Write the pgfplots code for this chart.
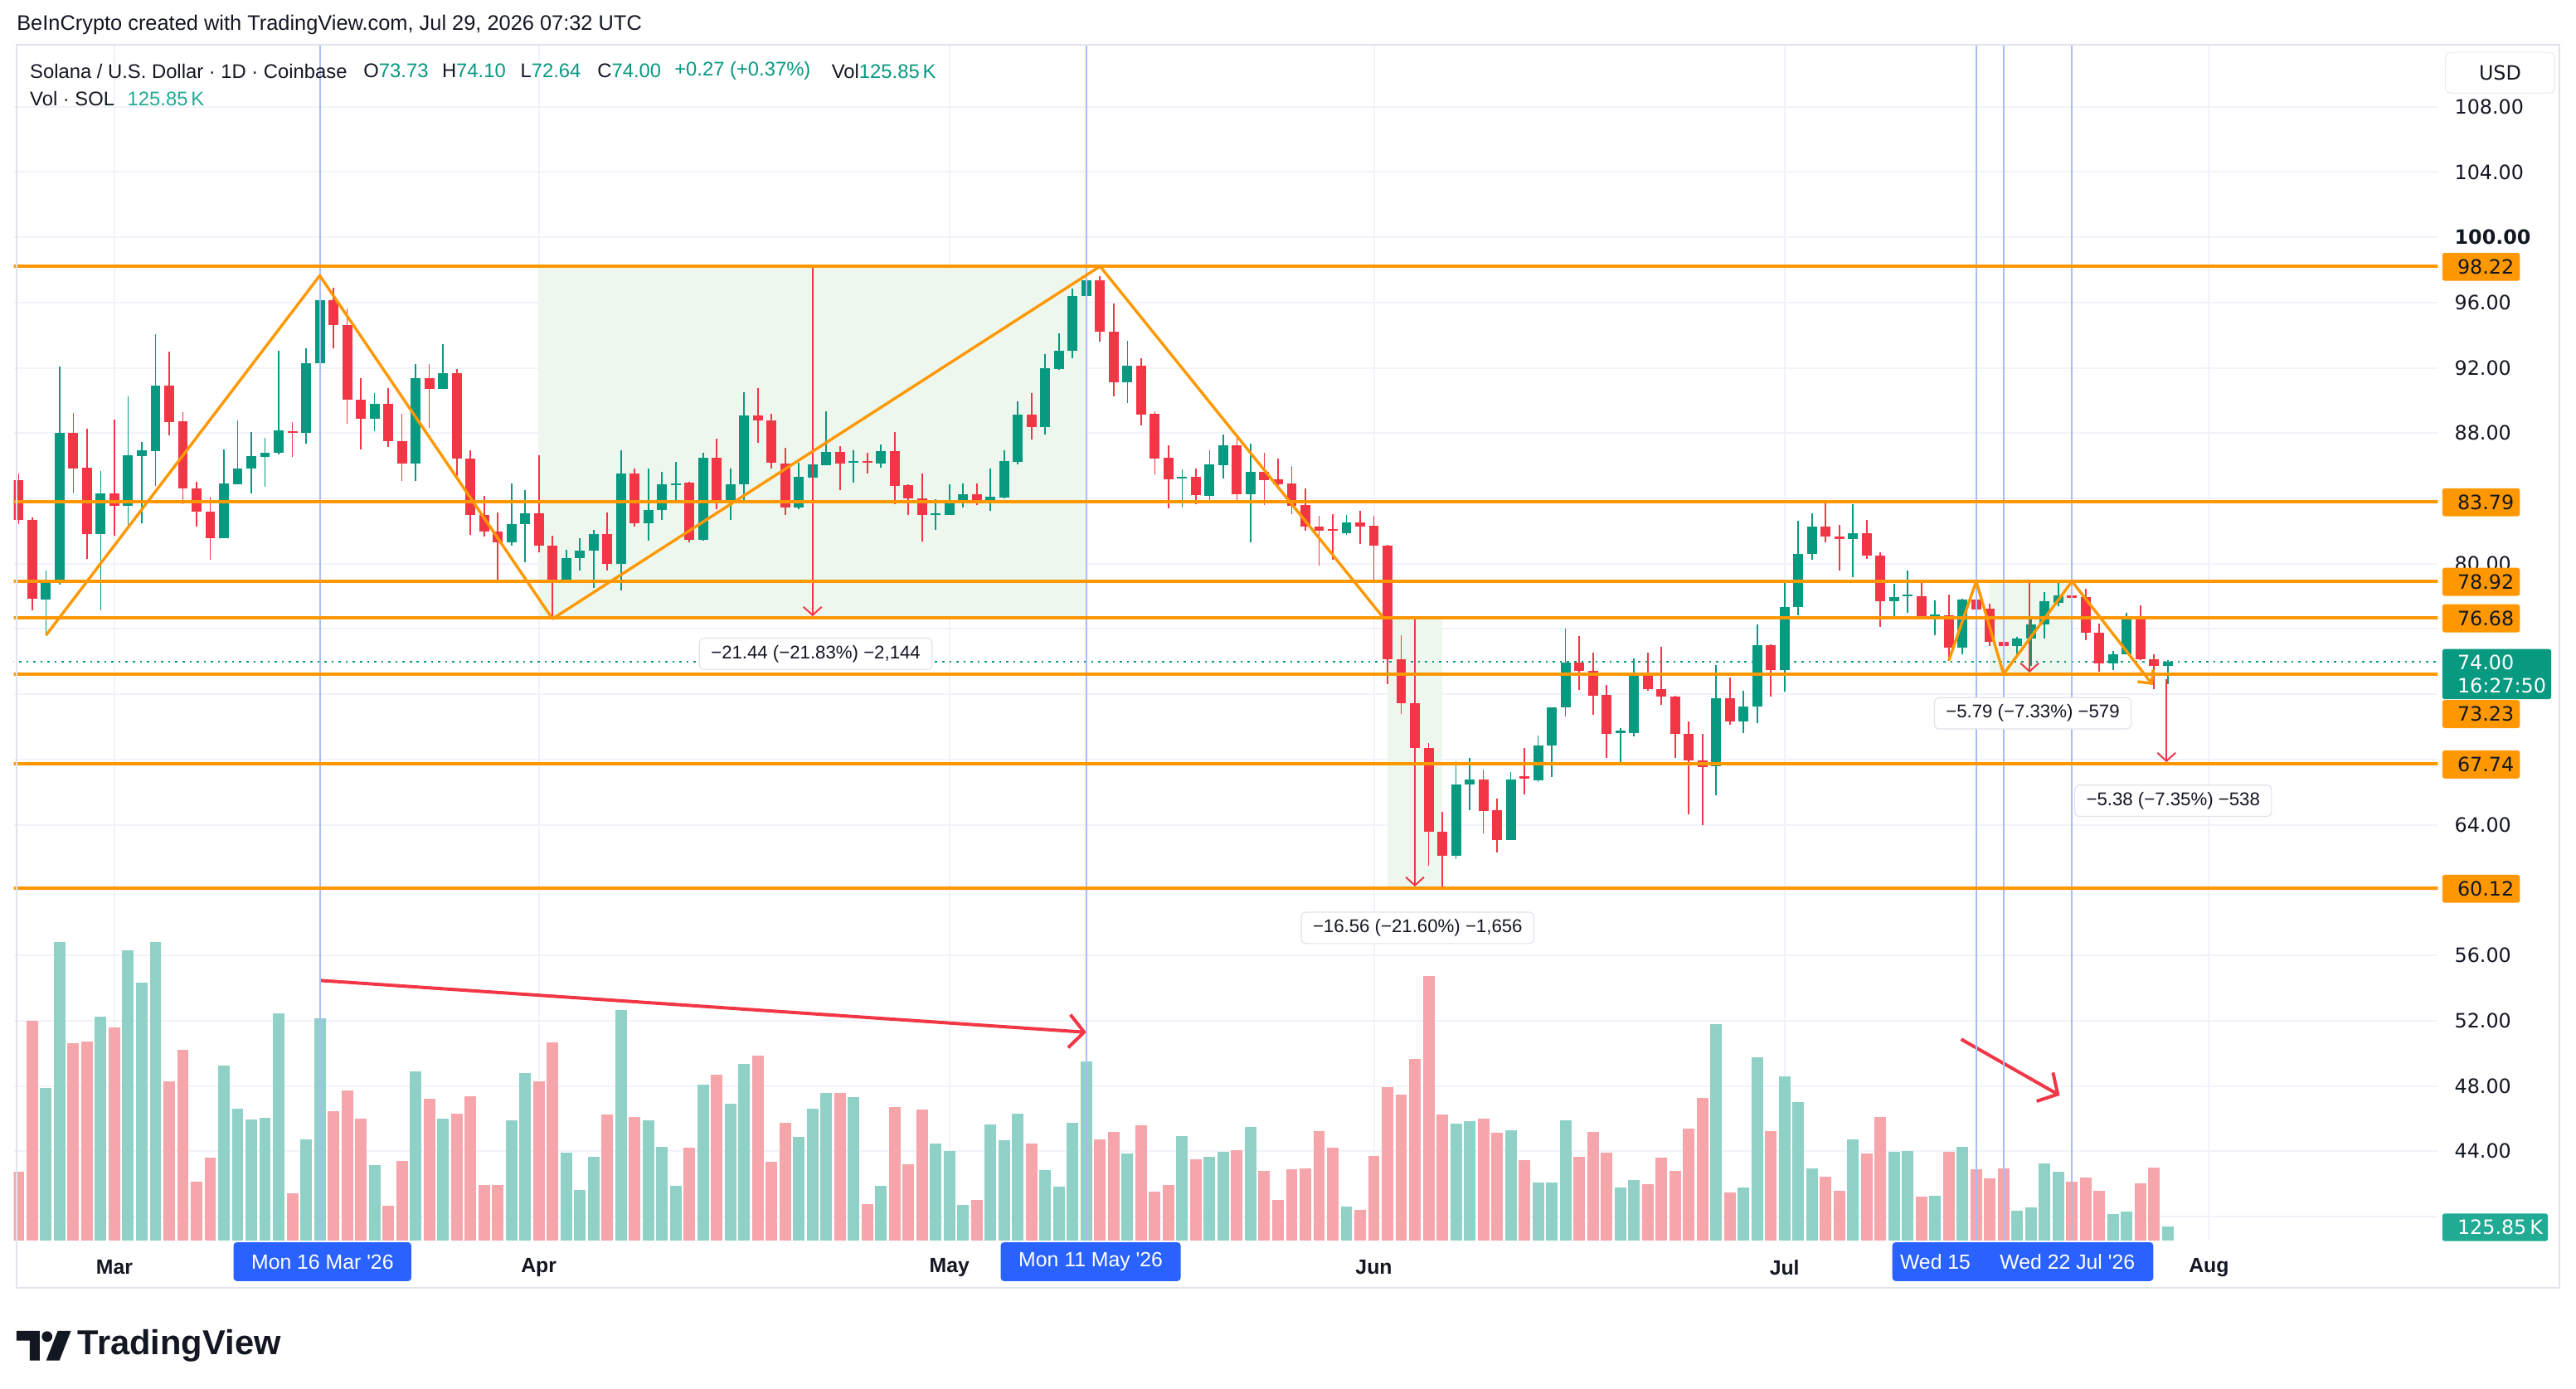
\documentclass[border=0pt]{standalone}
\usepackage{fontspec}
\setmainfont{Liberation Sans}
\newfontfamily\pricefont{DejaVu Sans}
\usepackage{pgfplots}
\pgfplotsset{compat=1.18}
\usepackage{pgfplotstable}
\usetikzlibrary{arrows.meta}
\definecolor{tvgreen}{HTML}{089981}
\definecolor{tvred}{HTML}{F23645}
\definecolor{tvvolg}{HTML}{8FD1C6}
\definecolor{tvvolr}{HTML}{F6A5AA}
\definecolor{tvorange}{HTML}{FF9800}
\definecolor{tvtext}{HTML}{131722}
\definecolor{tvgrid}{HTML}{F0F3FA}
\definecolor{tvborder}{HTML}{E0E3EB}
\definecolor{tvblue}{HTML}{2962FF}
\definecolor{tvvline}{HTML}{A8BCF7}
\definecolor{tvfill}{HTML}{EDF7EE}
\definecolor{tvteal}{HTML}{22AB94}

% d = days since 1 Mar 2026; O H L C in USD; V = volume in thousands of SOL
\pgfplotstableread{
d O H L C V
-7 85.13 85.52 82.42 82.67 624
-6 82.69 82.81 77.13 77.84 1996
-5 77.79 79.59 75.61 78.94 1389
-4 78.99 92.09 78.74 88.02 2713
-3 88.02 89.24 84.33 85.85 1795
-2 85.89 88.28 80.27 81.82 1810
-1 81.82 85.69 77.13 84.33 2036
0 84.33 88.82 81.71 83.53 1938
1 83.53 90.26 82.38 86.62 2640
2 86.58 87.46 82.47 86.96 2346
3 86.92 94.07 84.75 90.89 2713
4 90.89 92.97 87.84 88.70 1447
5 88.73 89.29 83.65 84.62 1734
6 84.62 85.04 82.26 83.18 534
7 83.21 84.08 80.23 81.54 753
8 81.54 87.01 81.54 84.92 1591
9 84.87 88.79 84.84 85.85 1198
10 85.82 88.09 84.33 86.57 1100
11 86.53 87.72 84.70 86.82 1115
12 86.79 93.02 86.70 88.19 2066
13 88.14 88.70 86.53 88.01 428
14 88.01 93.22 87.35 92.29 919
15 92.29 97.68 91.19 96.15 2021
16 96.15 96.91 93.19 94.61 1175
17 94.63 95.64 88.56 90.04 1364
18 90.07 91.36 86.99 88.87 1107
19 88.87 90.43 88.11 89.80 685
20 89.80 90.77 87.13 87.50 315
21 87.51 89.16 85.09 86.14 722
22 86.14 92.24 85.06 91.39 1538
23 91.39 92.21 88.34 90.72 1289
24 90.72 93.43 90.72 91.65 1107
25 91.65 91.92 85.38 86.45 1153
26 86.45 86.96 81.76 82.98 1311
27 82.98 84.16 81.65 81.96 503
28 81.96 83.14 79.03 81.32 503
29 81.32 84.92 81.11 82.43 1092
30 82.43 84.50 80.10 83.09 1523
31 83.09 86.62 80.69 81.11 1447
32 81.11 81.71 76.71 78.91 1802
33 78.91 80.86 78.86 80.35 798
34 80.35 81.57 79.59 80.81 458
35 80.81 82.08 78.49 81.82 760
36 81.82 83.14 79.59 80.01 1145
37 80.01 86.96 78.37 85.55 2097
38 85.55 85.82 82.26 82.50 1123
39 82.50 85.82 81.42 83.31 1092
40 83.31 85.65 82.67 84.84 851
41 84.79 86.24 83.82 84.92 496
42 84.96 85.01 81.32 81.48 843
43 81.48 86.79 81.42 86.50 1417
44 86.50 87.68 83.35 83.70 1508
45 83.70 85.85 82.67 84.87 1243
46 84.87 90.51 83.86 89.06 1606
47 89.06 90.77 87.38 88.79 1681
48 88.79 89.16 85.82 86.19 715
49 86.14 87.12 82.98 83.43 1070
50 83.43 86.19 83.35 85.30 941
51 85.26 86.91 84.30 86.06 1198
52 86.02 89.33 86.02 86.87 1342
53 86.87 87.18 84.50 86.14 1342
54 86.19 86.96 84.96 86.28 1304
55 86.24 86.79 85.52 86.19 330
56 86.14 87.29 85.89 86.91 496
57 86.91 88.09 83.65 84.75 1213
58 84.79 84.87 82.98 83.99 692
59 83.99 85.55 81.37 82.97 1191
60 82.97 83.96 82.09 83.06 881
61 82.97 84.84 82.97 83.74 813
62 83.74 84.92 83.45 84.25 322
63 84.25 84.92 83.57 83.82 367
64 83.82 85.85 83.23 84.08 1055
65 84.03 86.96 83.99 86.28 911
66 86.23 89.97 86.07 89.11 1153
67 89.11 90.43 87.60 88.36 881
68 88.36 92.83 87.89 92.00 639
69 91.95 94.12 91.87 93.05 488
70 93.05 96.86 92.58 96.41 1070
71 96.41 98.30 94.24 97.34 1626
72 97.34 97.63 93.58 94.23 919
73 94.23 95.96 90.26 91.11 987
74 91.11 93.63 89.82 92.13 790
75 92.13 92.59 88.49 89.14 1047
76 89.17 89.35 85.46 86.45 443
77 86.47 87.25 83.41 85.15 503
78 85.20 85.80 83.46 85.31 949
79 85.31 85.85 83.65 84.22 737
80 84.17 86.97 83.78 86.06 760
81 86.03 87.90 85.20 87.25 805
82 87.25 87.74 83.90 84.27 821
83 84.27 87.35 81.31 85.64 1032
84 85.64 86.81 83.59 85.12 632
85 85.17 86.42 84.61 84.89 367
86 84.92 85.98 83.05 83.54 647
87 83.57 84.63 82.04 82.25 654
88 82.25 82.92 79.89 82.01 994
89 82.09 83.05 80.22 82.01 843
90 81.88 83.00 81.75 82.55 307
91 82.55 83.26 81.23 82.27 277
92 82.30 82.95 78.98 81.11 768
93 81.11 81.18 72.62 74.13 1394
94 74.13 75.61 70.81 71.46 1326
95 71.46 71.60 68.47 68.73 1651
96 68.73 68.99 61.47 63.60 2406
97 63.60 64.79 60.12 62.10 1145
98 62.10 67.88 61.92 66.45 1062
99 66.45 68.08 64.90 66.79 1085
100 66.79 67.39 63.47 64.84 1107
101 64.90 65.62 62.30 63.08 979
102 63.08 67.25 63.08 66.79 1002
103 66.92 68.73 65.88 66.84 730
104 66.71 69.47 66.60 68.87 526
105 68.88 71.21 66.93 71.21 526
106 71.21 76.04 70.65 73.95 1092
107 73.92 75.58 72.28 73.45 760
108 73.45 74.56 70.75 71.92 987
109 71.97 72.57 68.11 69.57 798
110 69.64 69.94 67.83 69.72 481
111 69.64 74.17 69.43 73.11 549
112 73.16 74.56 72.23 72.31 511
113 72.31 74.90 71.35 71.84 753
114 71.84 71.92 68.11 69.57 632
115 69.57 70.32 64.64 67.95 1017
116 67.95 69.55 63.97 67.54 1296
117 67.57 73.80 65.83 71.77 1968
118 71.77 73.04 70.15 70.33 435
119 70.33 72.23 69.64 71.26 481
120 71.26 76.29 70.23 75.02 1666
121 75.02 75.07 71.86 73.50 994
122 73.50 78.83 72.14 77.36 1493
123 77.36 82.64 76.83 80.61 1259
124 80.61 83.10 80.23 82.25 654
125 82.25 83.87 81.32 81.67 579
126 81.67 82.35 79.59 81.49 451
127 81.49 83.62 79.17 81.88 919
128 81.88 82.69 80.27 80.49 790
129 80.52 80.69 76.15 77.70 1123
130 77.70 78.75 76.63 77.95 805
131 78.00 79.56 76.97 78.07 813
132 78.02 78.80 76.68 76.68 398
133 76.76 77.73 75.61 76.85 405
134 76.85 78.12 74.06 74.85 805
135 74.85 77.87 74.43 77.78 851
136 77.78 77.90 76.88 77.17 647
137 77.23 77.56 74.94 75.19 564
138 75.23 75.70 73.24 74.94 654
139 74.94 75.53 74.43 75.41 269
140 75.41 76.58 73.75 76.29 300
141 76.29 78.28 75.41 77.68 700
142 77.62 78.80 77.40 78.07 624
143 78.07 78.92 76.94 77.90 534
144 77.94 78.45 75.33 75.79 571
145 75.79 76.33 73.38 73.87 451
146 73.87 74.63 73.50 74.43 239
147 74.43 77.01 74.43 76.63 262
148 76.72 77.43 74.09 74.13 519
149 74.13 74.46 72.31 73.73 662
150 73.73 74.10 72.64 74.00 125.85
}\candles
\pgfplotstablecreatecol[create col/expr={(\thisrow{C}>=\thisrow{O})*\thisrow{V}}]{Vu}{\candles}
\pgfplotstablecreatecol[create col/expr={(\thisrow{C}<\thisrow{O})*\thisrow{V}}]{Vd}{\candles}

% volume pane scale: bars rise from the pane floor (38.534) at 148.57 K per price unit
\def\vbase{38.534}
\def\vscale{148.57}

\tikzset{
  mlabel/.style={fill=white, draw=tvborder, line width=0.6bp, rounded corners=3bp,
    minimum height=19bp, inner xsep=7bp, inner ysep=0pt,
    font=\fontsize{11.2}{13}\selectfont, text=tvtext},
  pfont/.style={font=\pricefont\fontsize{12}{14}\selectfont},
}
\newcommand{\obox}[2]{%
  \fill[tvorange, rounded corners=1.5bp] (1479,-#1+8.5) rectangle (1526,-#1-8.5);
  \node[anchor=west, inner sep=0pt, pfont, text=tvtext] at (1488,-#1) {#2};}

\begin{document}
\begin{tikzpicture}[x=1bp, y=1bp]
\useasboundingbox (0,0) rectangle (1560,-840.8);
\fill[white] (0,0) rectangle (1560,-840.8);

\begin{axis}[at={(10,-27)}, anchor=north west, scale only axis,
  width=1468bp, height=724.6bp,
  xmin=-7.358, xmax=169.72, ymin=38.534, ymax=111.837,
  axis line style={draw=none}, major tick length=0pt,
  xtick={0,31,61,92,122,153}, xticklabels={Mar,Apr,May,Jun,Jul,Aug},
  xticklabel style={font=\fontsize{12.5}{15}\selectfont\bfseries, text=tvtext, anchor=center, inner sep=0pt},
  xticklabel shift=16.4bp,
  ytick={40,44,48,52,56,60,64,68,72,76,80,84,88,92,96,104,108},
  yticklabels={{},44.00,48.00,52.00,56.00,{},64.00,{},{},{},80.00,{},88.00,92.00,96.00,104.00,108.00},
  yticklabel pos=right,
  yticklabel shift=10bp,
  yticklabel style={font=\pricefont\fontsize{12}{14}\selectfont, text=tvtext, anchor=west, inner sep=0pt},
  extra y ticks={100}, extra y tick labels={100.00},
  extra y tick style={grid=major, yticklabel style={font=\pricefont\bfseries\fontsize{12}{14}\selectfont}},
  xmajorgrids, ymajorgrids, grid style={tvgrid, line width=1bp},
  colormap={updown}{color(0cm)=(tvred) color(1cm)=(tvgreen)},
  point meta min=0, point meta max=1]

% volume bars
\addplot[quiver={u=0, v=\thisrow{Vu}/\vscale}, tvvolg, line width=7bp]
  table[x=d, y expr=\vbase] {\candles};
\addplot[quiver={u=0, v=\thisrow{Vd}/\vscale}, tvvolr, line width=7bp]
  table[x=d, y expr=\vbase] {\candles};
% volume trend arrows (volume 2367K->1895K and 1832K->1321K)
\addplot[tvred, line width=2bp, -{Straight Barb[length=9bp, width=20bp]}]
  table[x=d, y expr=\vbase+\thisrow{v}/\vscale] {d v
15 2367
71 1895
};
\addplot[tvred, line width=2bp, -{Straight Barb[length=9bp, width=20bp]}]
  table[x=d, y expr=\vbase+\thisrow{v}/\vscale] {d v
134.9 1832
142.1 1321
};

% measurement fills
\addplot[fill=tvfill, draw=none] coordinates {(31,76.68) (71,76.68) (71,98.22) (31,98.22)} -- cycle;
\addplot[fill=tvfill, draw=none] coordinates {(93,60.12) (97,60.12) (97,76.68) (93,76.68)} -- cycle;
\addplot[fill=tvfill, draw=none] coordinates {(137,73.23) (143,73.23) (143,78.92) (137,78.92)} -- cycle;

% current price line
\addplot[tvgreen, line width=1bp, dash pattern=on 1.3bp off 3bp] coordinates {(-8,74) (171,74)};

% candles: wicks and bodies
\addplot[quiver={u=0, v=\thisrow{H}-\thisrow{L}, colored=mapped color}, line width=0.9bp,
  point meta=explicit] table[x=d, y=L, meta expr={\thisrow{C}>=\thisrow{O}}] {\candles};
\addplot[quiver={u=0, v={max(abs(\thisrow{C}-\thisrow{O}),0.12)}, colored=mapped color}, line width=6bp,
  point meta=explicit] table[x=d, y expr={min(\thisrow{O},\thisrow{C})}, meta expr={\thisrow{C}>=\thisrow{O}}] {\candles};

% vertical marker lines
\pgfplotsinvokeforeach{15,71,136,138,143}{
  \addplot[tvvline, line width=1bp] coordinates {(#1,38) (#1,112)};
}

% measurement lines
\addplot[tvred, line width=1bp] coordinates {(31,98.22) (71,98.22)};
\addplot[tvred, line width=1bp] coordinates {(31,76.68) (71,76.68)};
\addplot[tvred, line width=1bp, -{Straight Barb[length=5bp, width=11bp]}] coordinates {(51,98.22) (51,76.78)};
\addplot[tvred, line width=1bp] coordinates {(93,76.68) (97,76.68)};
\addplot[tvred, line width=1bp] coordinates {(93,60.12) (97,60.12)};
\addplot[tvred, line width=1bp, -{Straight Barb[length=5bp, width=11bp]}] coordinates {(95,76.68) (95,60.22)};
\addplot[tvred, line width=1bp] coordinates {(137,78.92) (143,78.92)};
\addplot[tvred, line width=1bp] coordinates {(137,73.23) (143,73.23)};
\addplot[tvred, line width=1bp, -{Straight Barb[length=5bp, width=11bp]}] coordinates {(139.9,78.92) (139.9,73.33)};
\addplot[tvred, line width=1bp, -{Straight Barb[length=5bp, width=11bp]}] coordinates {(149.9,72.9) (149.9,67.84)};

% support / resistance lines
\pgfplotsinvokeforeach{98.22,83.79,78.92,76.68,73.23,67.74,60.12}{
  \addplot[tvorange, line width=2bp] coordinates {(-8,#1) (171,#1)};
}

% pattern zigzags
\addplot[tvorange, line width=1.7bp, line join=round]
  coordinates {(-5,75.61) (15,97.65) (32,76.62) (72,98.22) (92.7,76.68)};
\addplot[tvorange, line width=1.7bp, line join=round, -{Straight Barb[length=6bp, width=12bp]}]
  coordinates {(134,74.06) (136,78.92) (138,73.24) (143,78.92) (148.9,72.57)};
\end{axis}

% ---------- frame ----------
\draw[tvborder, line width=1bp] (10,-27) -- (1550,-27) -- (1550,-780) -- (10,-780) -- cycle;

% ---------- header / legend ----------
\node[anchor=west, inner sep=0pt, font=\fontsize{12.8}{15}\selectfont, text=tvtext] at (10,-15)
  {BeInCrypto created with TradingView.com, Jul 29, 2026 07:32 UTC};
\begin{scope}[every node/.style={anchor=west, inner sep=0pt, font=\fontsize{12}{14}\selectfont, text=tvtext}]
\node at (18,-43) {Solana / U.S. Dollar · 1D · Coinbase};
\node at (220,-43) {O\textcolor{tvgreen}{73.73}};
\node at (267.5,-43) {H\textcolor{tvgreen}{74.10}};
\node at (315,-43) {L\textcolor{tvgreen}{72.64}};
\node at (361.6,-43) {C\textcolor{tvgreen}{74.00}};
\node at (408.3,-43) {\textcolor{tvgreen}{+0.27 (+0.37\%)}};
\node at (503.5,-43) {Vol\textcolor{tvgreen}{125.85\,K}};
\node at (18,-60) {Vol · SOL};
\node at (77,-60) {\textcolor{tvteal}{125.85\,K}};
\end{scope}

% ---------- right scale boxes ----------
\node[draw=tvborder, fill=white, rounded corners=3bp, minimum width=66bp, minimum height=24.7bp,
  inner sep=0pt, pfont, text=tvtext] at (1514,-44) {USD};
\obox{161.6}{98.22}
\obox{304.2}{83.79}
\obox{352.4}{78.92}
\obox{374.5}{76.68}
\obox{432.5}{73.23}
\obox{463.0}{67.74}
\obox{538.3}{60.12}
\fill[tvgreen, rounded corners=1.5bp] (1479,-393.1) rectangle (1545,-423.5);
\node[anchor=west, inner sep=0pt, pfont, text=white] at (1488,-401) {74.00};
\node[anchor=west, inner sep=0pt, pfont, text=white] at (1488,-415.5) {16:27:50};
\fill[tvteal, rounded corners=1.5bp] (1479,-735) rectangle (1543,-751.7);
\node[anchor=west, inner sep=0pt, pfont, text=white] at (1488,-743.4) {125.85\,K};

% ---------- time axis date boxes ----------
\begin{scope}[every node/.style={text=white, inner sep=0pt, font=\fontsize{12.5}{15}\selectfont}]
\fill[tvblue, rounded corners=2bp] (141.4,-752.4) rectangle (249.1,-775.9);
\node at (195.3,-764.2) {Mon 16 Mar \textquotesingle 26};
\fill[tvblue, rounded corners=2bp] (606,-752.4) rectangle (715,-775.9);
\node at (660.5,-764.2) {Mon 11 May \textquotesingle 26};
\fill[tvblue, rounded corners=2bp] (1146,-752.4) rectangle (1304,-775.9);
\node at (1172,-764.2) {Wed 15};
\node at (1252,-764.2) {Wed 22 Jul \textquotesingle 26};
\end{scope}

% ---------- measurement labels ----------
\node[mlabel] at (494,-396) {−21.44 (−21.83\%) −2,144};
\node[mlabel] at (858.5,-562) {−16.56 (−21.60\%) −1,656};
\node[mlabel] at (1231,-432) {−5.79 (−7.33\%) −579};
\node[mlabel] at (1316,-485) {−5.38 (−7.35\%) −538};

% ---------- TradingView logo ----------
\fill[tvtext] (10,-806) -- (24,-806) -- (24,-824) -- (18,-824) -- (18,-812) -- (10,-812) -- cycle;
\fill[tvtext] (28.5,-809.5) circle (3.2);
\fill[tvtext] (35,-806) -- (43,-806) -- (36,-824) -- (28,-824) -- cycle;
\node[anchor=west, inner sep=0pt, font=\fontsize{21}{24}\selectfont\bfseries, text=tvtext] at (47,-815) {TradingView};
\end{tikzpicture}
\end{document}
